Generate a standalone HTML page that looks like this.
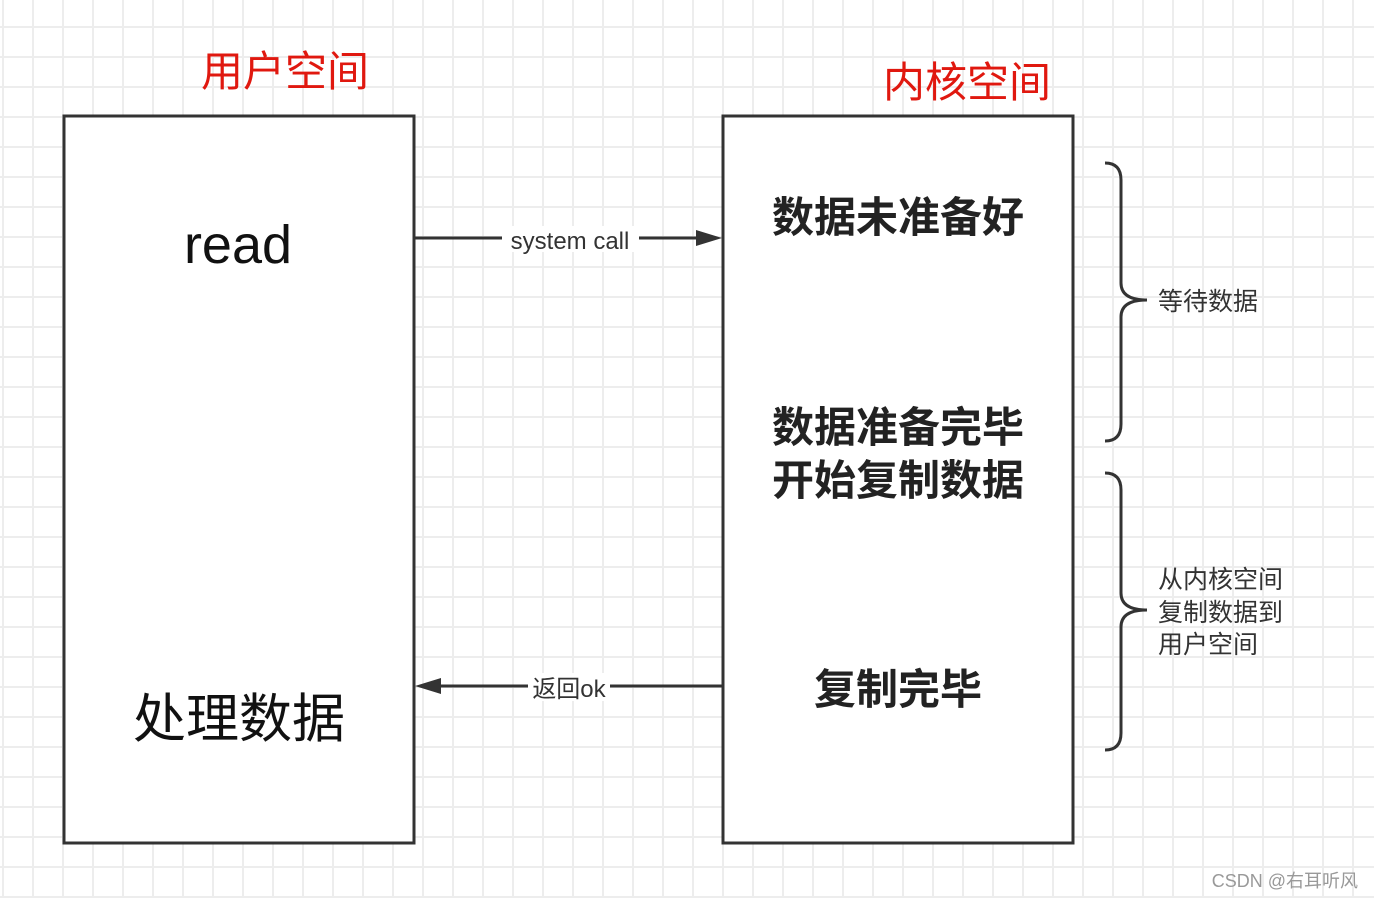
<!DOCTYPE html>
<html><head><meta charset="utf-8"><style>
html,body{margin:0;padding:0;}
body{width:1374px;height:898px;overflow:hidden;background:#fff;
background-image:linear-gradient(to right,#ededed 2px,transparent 2px),linear-gradient(to bottom,#ededed 2px,transparent 2px);
background-size:30px 30px;background-position:2px 26px;}
svg{position:absolute;left:0;top:0;}
text{font-family:"Liberation Sans","Noto Sans CJK SC",sans-serif;}
</style></head><body>
<svg width="1374" height="898" xmlns="http://www.w3.org/2000/svg">
<rect x="64" y="116" width="350" height="727" fill="#fff" stroke="#333" stroke-width="3"/>
<rect x="723" y="116" width="350" height="727" fill="#fff" stroke="#333" stroke-width="3"/>
<text x="285" y="86" font-size="42" fill="#e0180f" text-anchor="middle">用户空间</text>
<text x="967" y="97" font-size="42" fill="#e0180f" text-anchor="middle">内核空间</text>
<text x="238" y="263" font-size="54" fill="#111" text-anchor="middle">read</text>
<text x="239" y="737" font-size="53" fill="#111" text-anchor="middle">处理数据</text>
<g font-size="42" font-weight="bold" fill="#222" text-anchor="middle">
<text x="898" y="232">数据未准备好</text>
<text x="898" y="442">数据准备完毕</text>
<text x="898" y="495">开始复制数据</text>
<text x="898" y="704">复制完毕</text>
</g>
<line x1="414" y1="238" x2="700" y2="238" stroke="#333" stroke-width="3"/>
<polygon points="722,238 696,230 696,246" fill="#333"/>
<rect x="502" y="226" width="137" height="26" fill="#fff"/>
<text x="570" y="249" font-size="24" fill="#333" text-anchor="middle">system call</text>
<line x1="723" y1="686" x2="438" y2="686" stroke="#333" stroke-width="3"/>
<polygon points="415,686 441,678 441,694" fill="#333"/>
<rect x="528" y="673" width="82" height="28" fill="#fff"/>
<text x="569" y="697" font-size="24" fill="#333" text-anchor="middle">返回ok</text>
<path d="M1105,163 Q1121,163 1121,180 L1121,283 Q1121,300 1147,300 Q1121,300 1121,317 L1121,424 Q1121,441 1105,441" fill="none" stroke="#333" stroke-width="3"/>
<path d="M1105,473 Q1121,473 1121,490 L1121,593 Q1121,610 1147,610 Q1121,610 1121,627 L1121,733 Q1121,750 1105,750" fill="none" stroke="#333" stroke-width="3"/>
<g font-size="25" fill="#333">
<text x="1158" y="310">等待数据</text>
<text x="1158" y="588">从内核空间</text>
<text x="1158" y="621">复制数据到</text>
<text x="1158" y="653">用户空间</text>
</g>
<text x="1358" y="887" font-size="18" fill="#999" text-anchor="end">CSDN @右耳听风</text>
</svg>
</body></html>
